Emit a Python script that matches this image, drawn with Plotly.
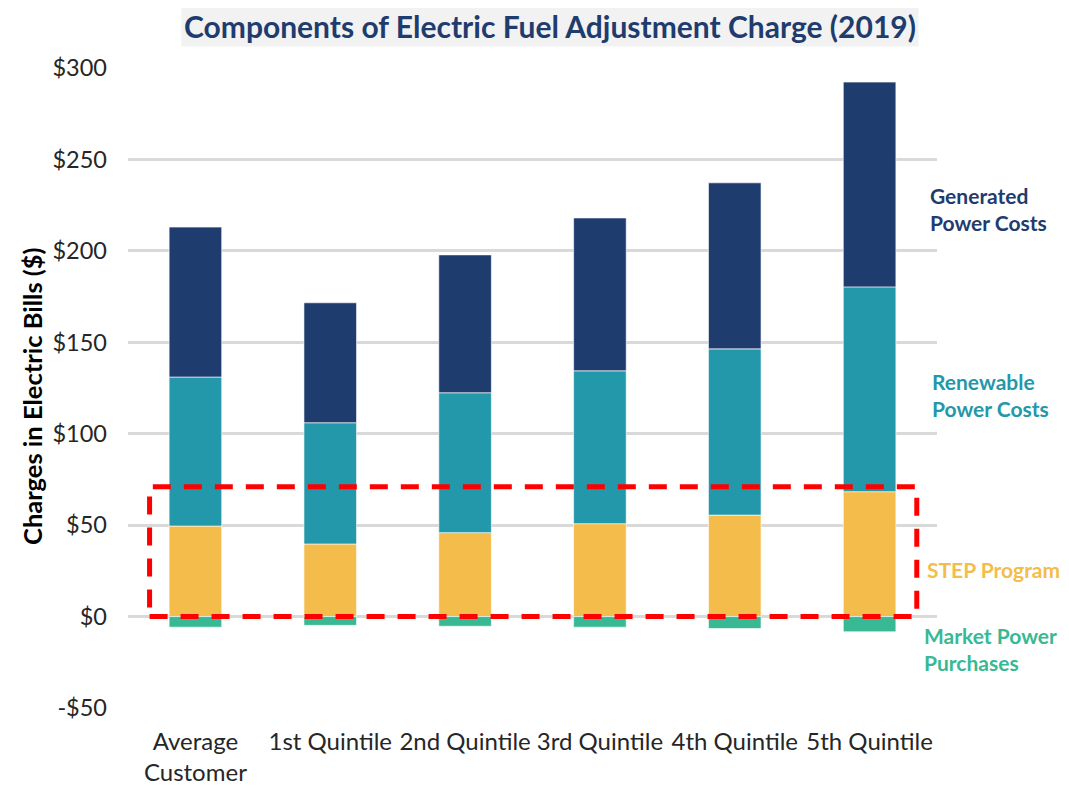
import plotly.graph_objects as go

categories = ["Average<br>Customer", "1st Quintile", "2nd Quintile", "3rd Quintile", "4th Quintile", "5th Quintile"]
step_program = [49.5, 39.7, 45.9, 50.8, 55.5, 68.3]
renewable_power = [81.5, 66.3, 76.5, 83.6, 90.9, 112.0]
generated_power = [82.0, 65.6, 75.4, 83.6, 90.8, 112.0]
market_power = [-5.8, -4.8, -5.3, -5.8, -6.5, -8.3]

series_names = ["STEP Program", "Renewable Power Costs", "Generated Power Costs", "Market Power Purchases"]
series_colors = ["#F4BC4A", "#2398AA", "#1F3C6E", "#38B993"]

y_tick_vals = [-50, 0, 50, 100, 150, 200, 250, 300]
y_tick_text = ["-$50", "$0", "$50", "$100", "$150", "$200", "$250", "$300"]

fig = go.Figure()
for name, vals, col in zip(series_names,
                           [step_program, renewable_power, generated_power, market_power],
                           series_colors):
    fig.add_trace(go.Bar(x=categories, y=vals, name=name, marker_color=col,
                         marker_line=dict(color="rgba(255,255,255,0.6)", width=1),
                         width=0.39, showlegend=False))

font_fam = "Lato, 'Open Sans', sans-serif"

# Red dashed highlight box
fig.add_shape(type="rect", xref="x", yref="y", x0=-0.34, x1=5.35, y0=0, y1=71,
              line=dict(color="#FF0000", width=5, dash="18px,13px"), fillcolor="rgba(0,0,0,0)",
              layer="above")

# Right-side labels
labels = [("<b>Generated<br>Power Costs</b>", 223, "#1F3C6E"),
          ("<b>Renewable<br>Power Costs</b>", 121, "#2398AA"),
          ("<b>STEP Program</b>", 25.5, "#F4BC4A"),
          ("<b>Market Power<br>Purchases</b>", -18, "#38B993")]
lab_x = [0.989, 0.991, 0.985, 0.982]
for (txt, yv, col), xp in zip(labels, lab_x):
    fig.add_annotation(text=txt, xref="paper", yref="y", x=xp, y=yv, xanchor="left",
                       yanchor="middle", align="left", showarrow=False,
                       font=dict(family=font_fam, size=21, color=col))

# Title with background box
fig.add_annotation(text="<b>Components of Electric Fuel Adjustment Charge (2019)</b>",
                   xref="paper", yref="paper", x=0.5216, y=1.0656, xanchor="center",
                   yanchor="middle", showarrow=False, bgcolor="#F2F2F2", borderpad=2,
                   font=dict(family=font_fam, size=30, color="#1F3C6E"))

# Y axis title
fig.add_annotation(text="<b>Charges in Electric Bills ($)</b>", xref="paper", yref="paper",
                   x=-0.1187, y=0.4875, xanchor="center", yanchor="middle", textangle=-90,
                   showarrow=False, font=dict(family=font_fam, size=25.5, color="black"))

fig.update_layout(
    barmode="relative",
    width=1061, height=778,
    margin=dict(l=120, r=132, t=60, b=78, autoexpand=False),
    plot_bgcolor="white", paper_bgcolor="white",
    font=dict(family=font_fam, size=20, color="#262626"),
    bargap=0.61,
)
fig.update_yaxes(range=[-50, 300], tickvals=y_tick_vals, ticktext=y_tick_text,
                 showgrid=True, gridcolor="#D9D9D9", gridwidth=3,
                 zeroline=True, zerolinecolor="#D9D9D9", zerolinewidth=3,
                 showline=False, ticklabelstandoff=20, automargin=False,
                 tickfont=dict(size=23.5, color="#262626"))
fig.update_xaxes(showgrid=False, showline=False, ticklabelstandoff=17, automargin=False,
                 tickfont=dict(size=24, color="#262626"))

fig.write_html("out.html")
